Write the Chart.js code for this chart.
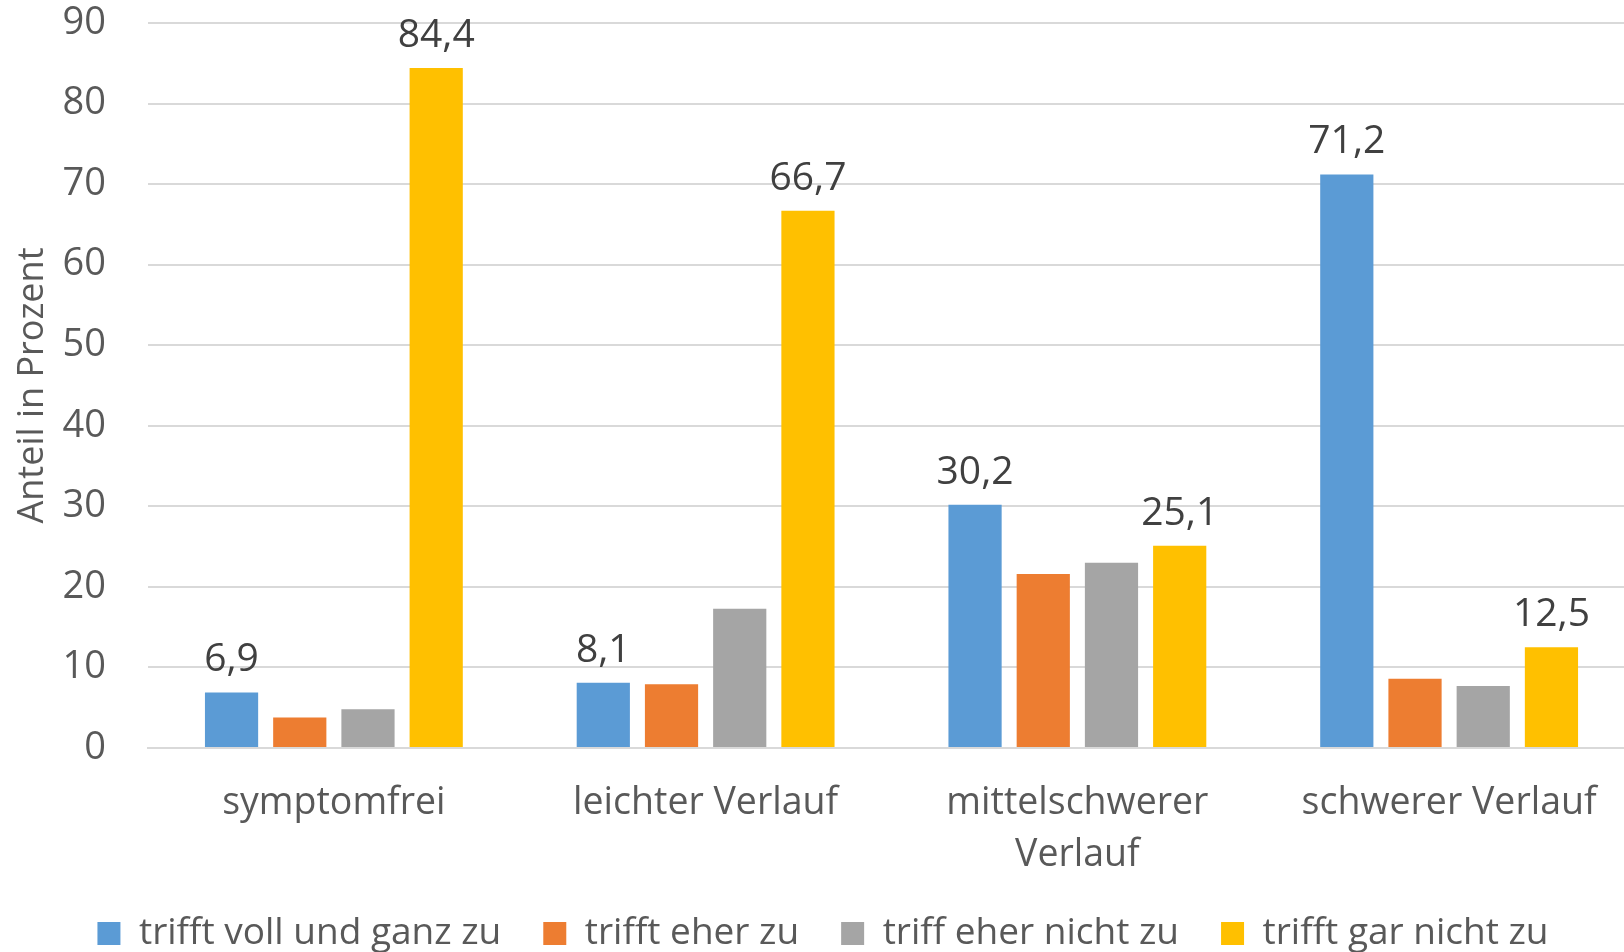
<!DOCTYPE html>
<html>
<head>
<meta charset="utf-8">
<script src="https://cdn.jsdelivr.net/npm/chart.js@4"></script>
<style>
  html, body { margin: 0; padding: 0; background: #fff; overflow: hidden; }
  /* plot runs a bit past the right edge of the window, like the original */
  #wrap { width: 1635px; height: 952px; }
</style>
</head>
<body>
<div id="wrap"><canvas id="chart"></canvas></div>
<script>
// categories
const categories = ['symptomfrei', 'leichter Verlauf', ['mittelschwerer', 'Verlauf'], 'schwerer Verlauf'];
// series values (Anteil in Prozent)
const trifftVoll = [6.9, 8.1, 30.2, 71.2];
const trifftEher = [3.8, 7.9, 21.6, 8.6];
const triffEherNicht = [4.8, 17.3, 23.0, 7.7];
const trifftGarNicht = [84.4, 66.7, 25.1, 12.5];
// y ticks
const yMin = 0, yMax = 90, yStep = 10;

const textFont = "'Open Sans', 'Noto Sans', sans-serif";

// value labels above blue + yellow bars only
const valueLabels = {
  id: 'valueLabels',
  afterDatasetsDraw(chart) {
    const ctx = chart.ctx;
    ctx.save();
    ctx.font = `39px ${textFont}`;
    ctx.fillStyle = '#404040';
    ctx.textAlign = 'center';
    ctx.textBaseline = 'alphabetic';
    [0, 3].forEach(di => {
      const meta = chart.getDatasetMeta(di);
      meta.data.forEach((bar, i) => {
        const v = chart.data.datasets[di].data[i];
        ctx.fillText(v.toFixed(1).replace('.', ','), bar.x, bar.y - 21);
      });
    });
    ctx.restore();
  }
};

new Chart(document.getElementById('chart'), {
  type: 'bar',
  data: {
    labels: categories,
    datasets: [
      { label: 'trifft voll und ganz zu', data: trifftVoll, backgroundColor: '#5b9bd5' },
      { label: 'trifft eher zu', data: trifftEher, backgroundColor: '#ed7d31' },
      { label: 'triff eher nicht zu', data: triffEherNicht, backgroundColor: '#a5a5a5' },
      { label: 'trifft gar nicht zu', data: trifftGarNicht, backgroundColor: '#ffc000' }
    ]
  },
  options: {
    responsive: true,
    maintainAspectRatio: false,
    animation: false,
    datasets: { bar: { categoryPercentage: 0.734, barPercentage: 0.78 } },
    layout: { padding: { top: 23, right: 0, left: 11, bottom: -10 } },
    plugins: {
      legend: {
        position: 'bottom',
        labels: {
          font: { size: 37, family: textFont },
          color: '#595959',
          boxWidth: 23,
          boxHeight: 23,
          padding: 42
        }
      },
      tooltip: { enabled: false }
    },
    scales: {
      x: {
        grid: { display: false },
        border: { color: '#d9d9d9', width: 2 },
        ticks: { font: { size: 37.5, family: textFont, lineHeight: 1.39 }, color: '#595959', padding: 21 },
        afterFit(scale) {
          scale.height = 125;
        }
      },
      y: {
        min: yMin, max: yMax,
        ticks: { stepSize: yStep, font: { size: 38, family: textFont }, color: '#595959', padding: 42 },
        grid: { color: '#d9d9d9', lineWidth: 2, drawTicks: false },
        border: { display: false },
        title: { display: true, text: 'Anteil in Prozent', font: { size: 36, family: textFont }, color: '#595959', padding: 0 },
        afterFit(scale) {
          scale.width = 137;
          scale.paddingTop = 0;
          scale.paddingBottom = 0;
        }
      }
    }
  },
  plugins: [valueLabels]
});
</script>
</body>
</html>
